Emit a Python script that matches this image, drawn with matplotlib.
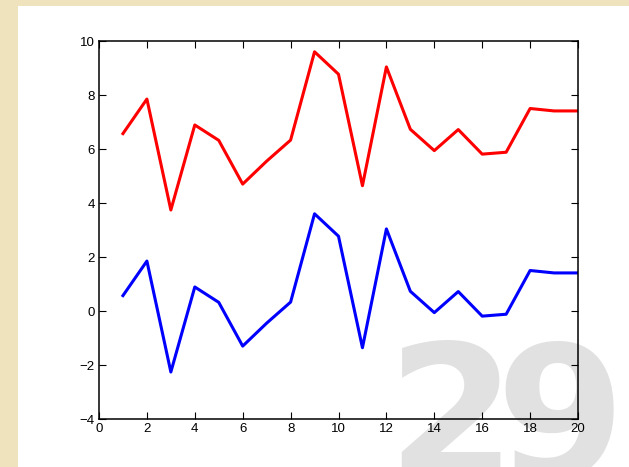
import matplotlib
matplotlib.use("Agg")
import matplotlib.pyplot as plt
from matplotlib.patches import Rectangle

# sample index and the two series
x = list(range(1, 21))
blue_vals = [0.57, 1.85, -2.26, 0.89, 0.32, -1.30, -0.45, 0.33, 3.60, 2.77,
             -1.36, 3.04, 0.73, -0.06, 0.72, -0.19, -0.12, 1.50, 1.41, 1.41]
red_vals = [6.57, 7.85, 3.74, 6.89, 6.32, 4.70, 5.55, 6.33, 9.60, 8.77,
            4.64, 9.04, 6.73, 5.94, 6.72, 5.81, 5.88, 7.50, 7.41, 7.41]
xticks = list(range(0, 21, 2))
yticks = list(range(-4, 11, 2))

W, H = 629, 467
fig = plt.figure(figsize=(W / 100, H / 100), dpi=100)
fig.patch.set_facecolor("#efe3bd")

# white page area
fig.patches.append(Rectangle((18 / W, 0), 1 - 18 / W, 1 - 6 / H,
                             transform=fig.transFigure, facecolor="white",
                             edgecolor="none", zorder=0))

# slide number watermark behind the axes, one digit at a time for tight spacing
for ch, px in (("2", 386), ("9", 495)):
    fig.text(px / W, 1 - 337 / H, ch, fontsize=134, fontweight="bold",
             family="DejaVu Sans", color="#e1e1e1", ha="left", va="top",
             zorder=0.5)

ax = fig.add_axes([99 / W, 48 / H, (578 - 99) / W, (419 - 41) / H])
ax.patch.set_visible(False)
ax.set_zorder(2)

ax.plot(x, red_vals, color="red", lw=2.2)
ax.plot(x, blue_vals, color="blue", lw=2.2)

ax.set_xlim(0, 20)
ax.set_ylim(-4, 10)
ax.set_xticks(xticks)
ax.set_yticks(yticks)
ax.set_xticklabels([str(v) for v in xticks])
ax.set_yticklabels([("\u2212" + str(-v)) if v < 0 else str(v) for v in yticks])

for s in ax.spines.values():
    s.set_linewidth(1.1)
    s.set_color("black")
ax.tick_params(direction="in", length=5, width=0.8, top=True, right=True,
               labelsize=9.5, pad=3, colors="black")
for lab in ax.get_xticklabels() + ax.get_yticklabels():
    lab.set_family(["Liberation Sans", "DejaVu Sans"])

fig.savefig("out.png", dpi=100, facecolor=fig.get_facecolor())
